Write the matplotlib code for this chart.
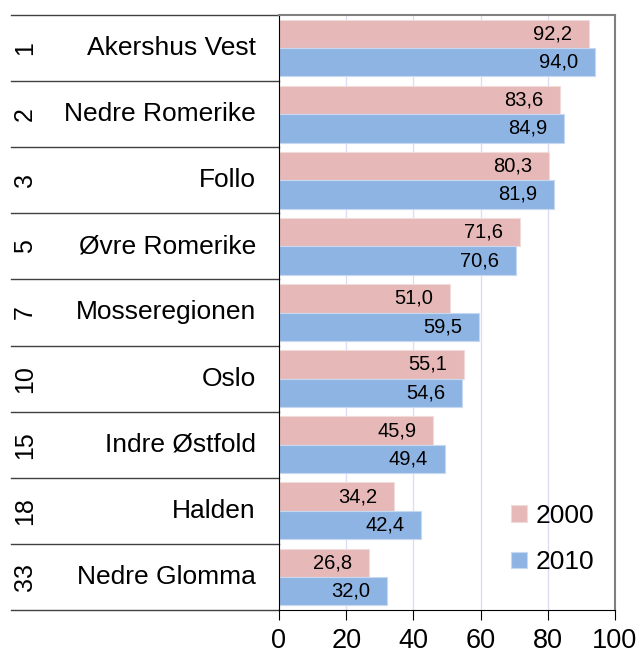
import matplotlib.pyplot as plt
import matplotlib.transforms as mtransforms
import numpy as np

plt.rcParams['font.family'] = ['Liberation Sans', 'DejaVu Sans']

# data
ranks = ["1", "2", "3", "5", "7", "10", "15", "18", "33"]
regions = ["Akershus Vest", "Nedre Romerike", "Follo", "Øvre Romerike",
           "Mosseregionen", "Oslo", "Indre Østfold", "Halden", "Nedre Glomma"]
vals_2000 = [92.2, 83.6, 80.3, 71.6, 51.0, 55.1, 45.9, 34.2, 26.8]
vals_2010 = [94.0, 84.9, 81.9, 70.6, 59.5, 54.6, 49.4, 42.4, 32.0]

c2000 = "#E6B9B8"
c2010 = "#8EB4E3"

fig = plt.figure(figsize=(6.39, 6.53), dpi=100)
W, H = 639, 653
ax = fig.add_axes([279 / W, (H - 610) / H, (615 - 279) / W, 595 / H])

y = np.arange(len(regions))
h = 0.43
ax.barh(y - h / 2, vals_2000, height=h, color=c2000, edgecolor="#F2DCDB",
        linewidth=0.8, label="2000", zorder=2)
ax.barh(y + h / 2, vals_2010, height=h, color=c2010, edgecolor="#C6D9F1",
        linewidth=0.8, label="2010", zorder=2)

for i in range(len(regions)):
    ax.text(vals_2000[i] - 5, y[i] - h / 2, f"{vals_2000[i]:.1f}".replace(".", ","),
            ha="right", va="center", fontsize=14.5, zorder=3)
    ax.text(vals_2010[i] - 5, y[i] + h / 2, f"{vals_2010[i]:.1f}".replace(".", ","),
            ha="right", va="center", fontsize=14.5, zorder=3)

ax.set_xlim(0, 100)
ax.set_ylim(len(regions) - 0.5, -0.5)
ax.set_xticks([0, 20, 40, 60, 80, 100])
ax.tick_params(axis="x", labelsize=19.5, length=7, direction="out", pad=6)
ax.set_yticks([])
ax.xaxis.grid(True, color="#DCDCF5", linewidth=1, zorder=0)
ax.set_axisbelow(True)

ax.spines["left"].set_color("black")
ax.spines["bottom"].set_color("black")
ax.spines["top"].set_color("#808080")
ax.spines["right"].set_color("#808080")
ax.spines["top"].set_linewidth(1.5)
ax.spines["right"].set_linewidth(1.5)

# category table on the left
trans = mtransforms.blended_transform_factory(ax.transAxes, ax.transData)
x0 = (11 - 279) / 336
for b in np.arange(len(regions) + 1) - 0.5:
    ax.plot([x0, 0], [b, b], color="#404040", linewidth=1, transform=trans,
            clip_on=False)
for i in range(len(regions)):
    ax.text((25 - 279) / 336, y[i], ranks[i], rotation=90, ha="center",
            va="center", fontsize=18, transform=trans)
    ax.text((256 - 279) / 336, y[i], regions[i], ha="right", va="center",
            fontsize=19, transform=trans)

leg = ax.legend(loc="lower right", bbox_to_anchor=(1.01, 0.02), frameon=False,
                fontsize=19, handlelength=0.6, handleheight=0.6,
                handletextpad=0.35, labelspacing=0.85)

fig.savefig("out.png", dpi=100)
